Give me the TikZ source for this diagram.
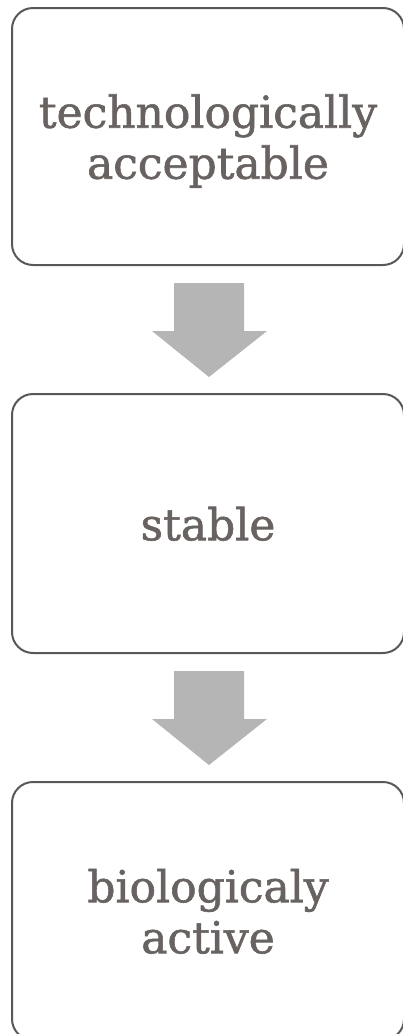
\documentclass[tikz,border=0pt]{standalone}
\usepackage{fontspec}
\setmainfont{DejaVu Serif}[UprightFeatures={FakeBold=1.3}]
\usetikzlibrary{calc}
\definecolor{txtgray}{RGB}{104,99,97}
\definecolor{edgegray}{RGB}{88,88,88}
\definecolor{arrowgray}{RGB}{181,181,181}
\begin{document}
\begin{tikzpicture}[x=1pt,y=-1pt,
  box/.style={draw=edgegray, line width=2pt, rounded corners=21pt, fill=white,
    minimum width=392pt, minimum height=257pt, inner sep=0pt, text=txtgray,
    align=center, text depth=0pt, font=\fontsize{44}{51}\selectfont},
  blockarrow/.style={fill=arrowgray, draw=none}]
\useasboundingbox (0,0) rectangle (403,1034);
\clip (0,0) rectangle (403,1034);
\node[box] (b1) at (208,136.5) {technologically\\acceptable};
\node[box, minimum height=259pt] (b2) at (208,523.5) {stable};
\node[box, minimum height=258pt] (b3) at (208,911) {biologicaly\\active};
\foreach \a/\b in {b1/b2, b2/b3}{
  \fill[blockarrow] ($(\a.south)+(-34,17)$) -- ($(\a.south)+(36,17)$)
    -- ($(\a.south)+(36,65)$) -- ($(\a.south)+(59,65)$)
    -- ($(\b.north)+(1,-16)$) -- ($(\a.south)+(-56,65)$)
    -- ($(\a.south)+(-34,65)$) -- cycle;
}
\end{tikzpicture}
\end{document}
